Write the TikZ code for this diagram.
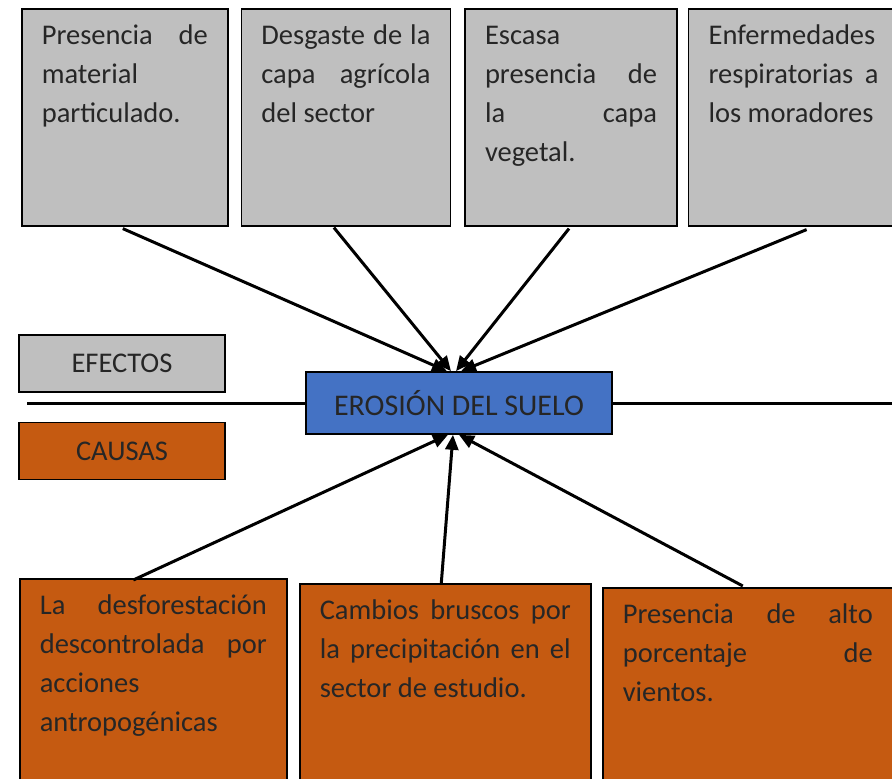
\documentclass[tikz,border=0pt]{standalone}
\usepackage{fontspec}
\setmainfont{Carlito}
\usetikzlibrary{positioning,calc,arrows.meta}
\definecolor{grisefecto}{HTML}{BFBFBF}
\definecolor{naranjacausa}{HTML}{C55A11}
\definecolor{azulcentro}{HTML}{4472C4}
\definecolor{textoletra}{HTML}{262626}
\tikzset{
  caja/.style={draw=black,line width=1.6pt,anchor=north west,inner xsep=20pt,inner ysep=12pt,
    text=textoletra,font=\fontsize{28.5}{39}\selectfont},
  efecto/.style={caja,fill=grisefecto},
  causa/.style={caja,fill=naranjacausa},
  rotulo/.style={draw=black,line width=1.6pt,minimum width=206pt,minimum height=57pt,
    text=textoletra,font=\fontsize{28.5}{34}\selectfont},
  flecha/.style={line width=3pt,-{Triangle[length=15pt,width=13pt]}}
}
\newcommand{\textocaja}[3]{\parbox[t][#1][t]{#2}{\hyphenpenalty=10000\rule{0pt}{24pt}#3}}

\begin{document}
\begin{tikzpicture}[x=1pt,y=-1pt]
  \useasboundingbox (0,0) rectangle (892,779);
  \clip (0,0) rectangle (892,779);
  % efectos
  \node[efecto] (e1) at (21,8) {\textocaja{193pt}{166pt}{Presencia de\linebreak material\linebreak particulado.}};
  \node[efecto,right=12pt of e1] (e2) {\textocaja{193pt}{169pt}{Desgaste de la\linebreak capa agrícola\linebreak del sector}};
  \node[efecto,right=13pt of e2] (e3) {\textocaja{193pt}{172pt}{Escasa\linebreak presencia de\linebreak la capa\linebreak vegetal.}};
  \node[efecto,right=10pt of e3] (e4) {\textocaja{193pt}{170pt}{Enfermedades\linebreak respiratorias a\linebreak los moradores}};
  % rotulos
  \node[rotulo,fill=grisefecto] (efectos) at (122,363.5) {EFECTOS};
  \node[rotulo,fill=naranjacausa] (causas) at (122,451) {CAUSAS};
  % problema central
  \coordinate (ejeizq) at (27,403);
  \coordinate (ejeder) at (892,403);
  \node[draw=black,line width=1.6pt,fill=azulcentro,minimum width=306pt,minimum height=62pt,
    text=textoletra,font=\fontsize{30}{34}\selectfont] (erosion) at (459,403) {EROSIÓN DEL SUELO};
  \draw[line width=3pt] (ejeizq) -- (erosion.west);
  \draw[line width=3pt] (erosion.east) -- (ejeder);
  % causas
  \node[causa] (c1) at (19,578) {\textocaja{200pt}{227pt}{La desforestación\linebreak descontrolada por\linebreak acciones\linebreak antropogénicas}};
  \node[causa] (c2) at (299,583) {\textocaja{200pt}{251pt}{Cambios bruscos por\linebreak la precipitación en el\linebreak sector de estudio.}};
  \node[causa] (c3) at (602,587) {\textocaja{200pt}{250pt}{Presencia de alto\linebreak porcentaje de\linebreak vientos.}};
  % flechas
  \draw[flecha] ($(e1.south)+(-2,2)$) -- ($(erosion.north)+(-12,0)$);
  \draw[flecha] ($(e2.south)+(-12,1)$) -- ($(erosion.north)+(-8,0)$);
  \draw[flecha] ($(e3.south)+(-2,2)$) -- ($(erosion.north)+(-3,0)$);
  \draw[flecha] ($(e4.south)+(13,3)$) -- ($(erosion.north)+(2,0)$);
  \draw[flecha] ($(c1.north)+(-20,2)$) -- ($(erosion.south)+(-11,0)$);
  \draw[flecha] ($(c2.north)+(-4,0)$) -- ($(erosion.south)+(-6,0)$);
  \draw[flecha] ($(c3.north)+(-5,-1)$) -- ($(erosion.south)+(0,0)$);
\end{tikzpicture}
\end{document}
